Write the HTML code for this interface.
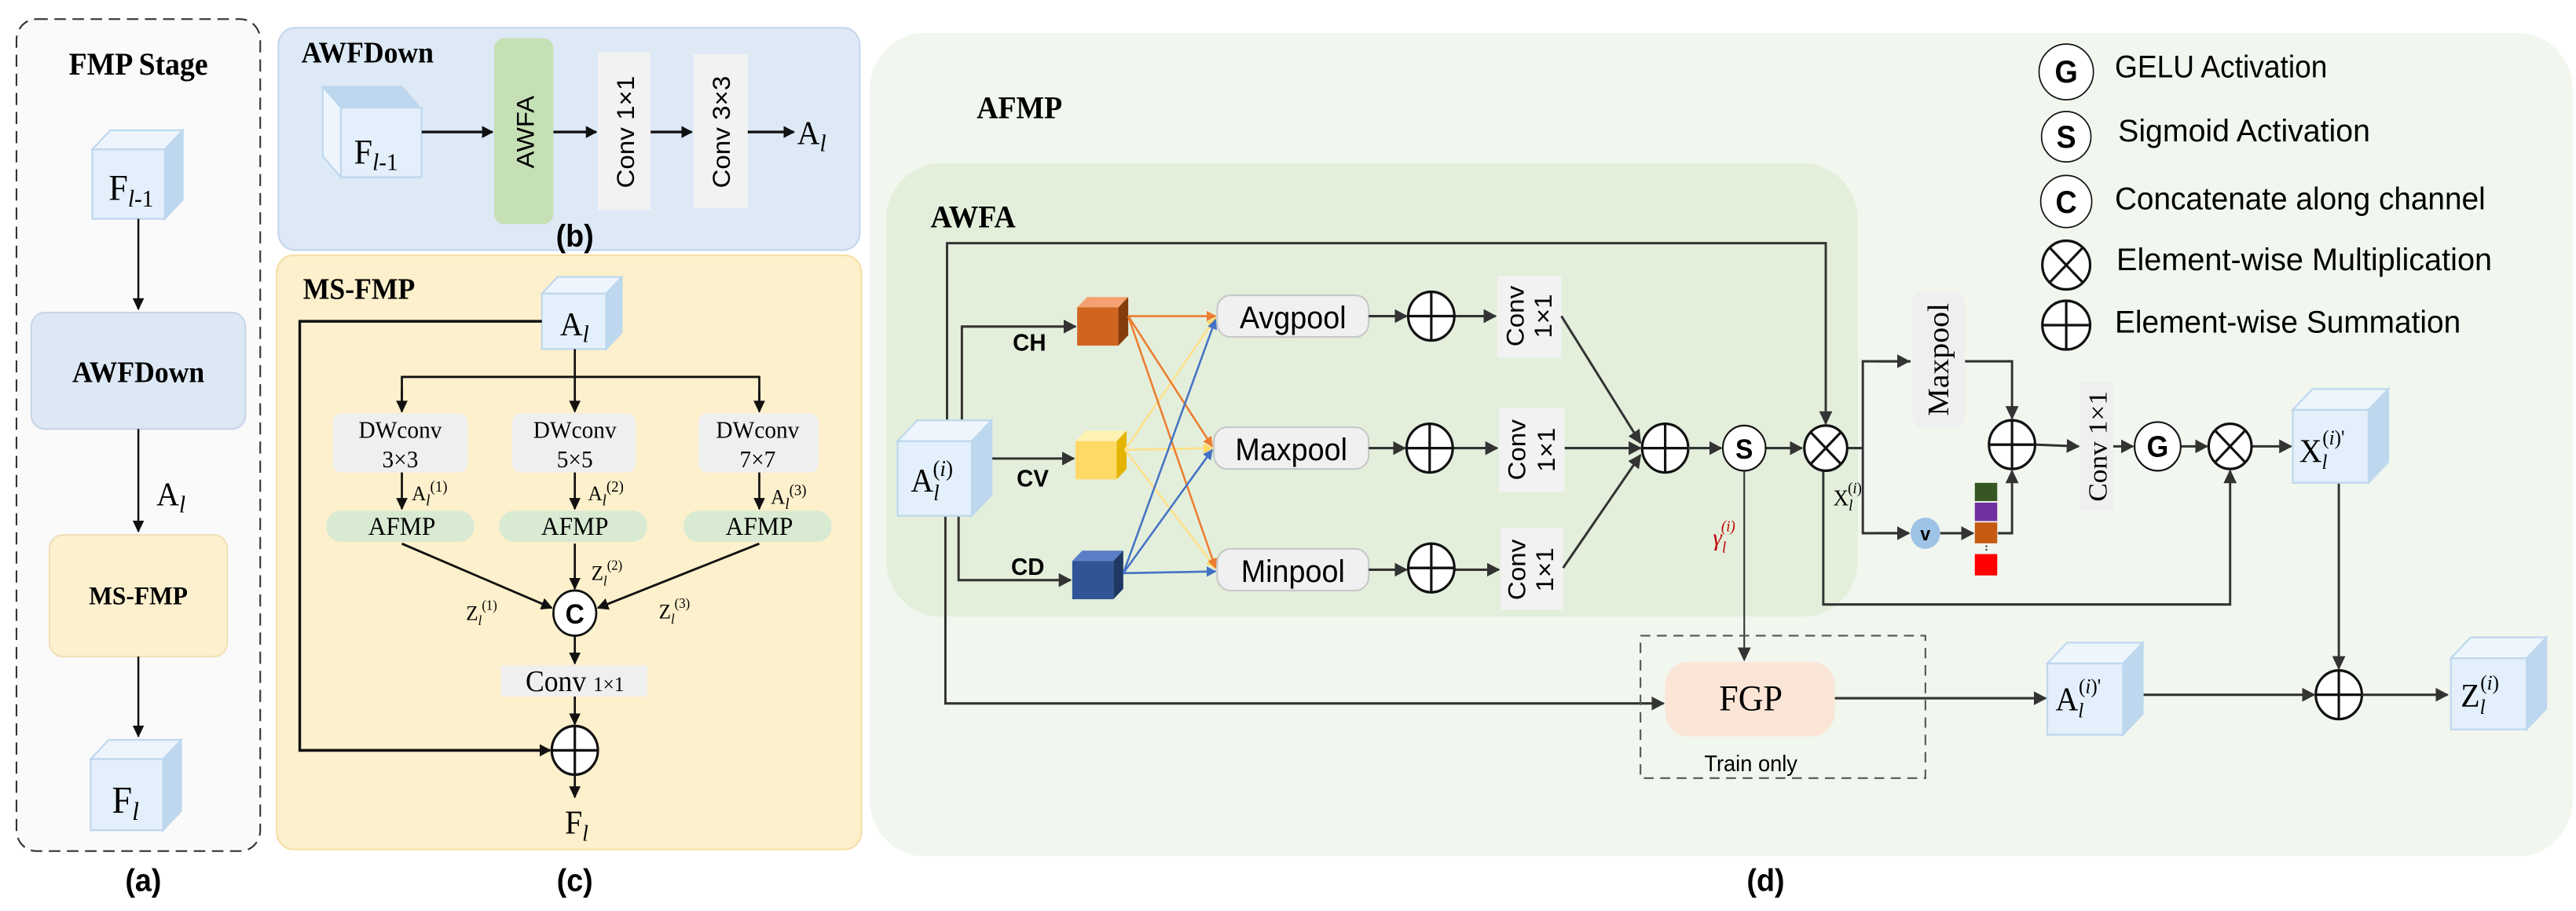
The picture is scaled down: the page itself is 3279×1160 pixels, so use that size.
<!DOCTYPE html>
<html><head><meta charset="utf-8"><style>
html,body{margin:0;padding:0;background:#fff;}
svg{display:block;}
.serif{font-family:"Liberation Serif",serif;}
.sans{font-family:"Liberation Sans","DejaVu Sans",sans-serif;}
</style></head><body>
<svg width="3279" height="1160" viewBox="0 0 1564 524.5" preserveAspectRatio="none" xmlns="http://www.w3.org/2000/svg">
<defs>
<marker id="a" viewBox="0 0 10 10" refX="9" refY="5" markerWidth="7" markerHeight="7" markerUnits="userSpaceOnUse" orient="auto"><path d="M0,0L10,5L0,10z" fill="#111"/></marker>
<marker id="g" viewBox="0 0 10 10" refX="9" refY="5" markerWidth="8" markerHeight="8" markerUnits="userSpaceOnUse" orient="auto"><path d="M0,0L10,5L0,10z" fill="#333"/></marker>
<marker id="o" viewBox="0 0 10 10" refX="9" refY="5" markerWidth="6" markerHeight="6" markerUnits="userSpaceOnUse" orient="auto"><path d="M0,0L10,5L0,10z" fill="#ed7d31"/></marker>
<marker id="y" viewBox="0 0 10 10" refX="9" refY="5" markerWidth="6" markerHeight="6" markerUnits="userSpaceOnUse" orient="auto"><path d="M0,0L10,5L0,10z" fill="#ffd966"/></marker>
<marker id="b" viewBox="0 0 10 10" refX="9" refY="5" markerWidth="6" markerHeight="6" markerUnits="userSpaceOnUse" orient="auto"><path d="M0,0L10,5L0,10z" fill="#4472c4"/></marker>
</defs>

<!-- Panel a -->
<rect x="10" y="11" width="148" height="479" rx="12" fill="#fafafa" stroke="#333" stroke-dasharray="7,4" stroke-width="1"/>
<text x="84" y="43" class="serif" font-weight="bold" font-size="18" text-anchor="middle">FMP Stage</text>
<g stroke="#bdd7ee" stroke-width="1">
<polygon points="56,86 67,75 111,75 100,86" fill="#eef5fc"/>
<polygon points="100,86 111,75 111,115 100,126" fill="#bdd7ee"/>
<rect x="56" y="86" width="44" height="40" fill="#e3effa"/>
<polygon points="55,437 66,426 110,426 99,437" fill="#eef5fc"/>
<polygon points="99,437 110,426 110,467 99,478" fill="#bdd7ee"/>
<rect x="55" y="437" width="44" height="41" fill="#e3effa"/>
</g>
<text x="66" y="115" class="serif" font-size="21">F<tspan font-size="14" dy="4"><tspan font-style="italic">l</tspan>-1</tspan></text>
<text x="68" y="468" class="serif" font-size="22">F<tspan font-size="15" dy="4" font-style="italic">l</tspan></text>
<line x1="84" y1="126" x2="84" y2="178" stroke="#111" stroke-width="1.2" marker-end="url(#a)"/>
<rect x="19" y="180" width="130" height="67" rx="8" fill="#dde8f5" stroke="#c9d6e6"/>
<text x="84" y="220" class="serif" font-weight="bold" font-size="17" text-anchor="middle">AWFDown</text>
<line x1="84" y1="247" x2="84" y2="306" stroke="#111" stroke-width="1.2" marker-end="url(#a)"/>
<text x="95" y="291" class="serif" font-size="19">A<tspan font-size="14" dy="4" font-style="italic">l</tspan></text>
<rect x="30" y="308" width="108" height="70" rx="8" fill="#fdf0cf" stroke="#f0e0b8"/>
<text x="84" y="348" class="serif" font-weight="bold" font-size="15" text-anchor="middle">MS-FMP</text>
<line x1="84" y1="378" x2="84" y2="424" stroke="#111" stroke-width="1.2" marker-end="url(#a)"/>
<text x="87" y="513" class="sans" font-weight="bold" font-size="18" text-anchor="middle">(a)</text>

<!-- Panel b -->
<rect x="169" y="16" width="353" height="128" rx="10" fill="#dde9f5" stroke="#c5d7ec"/>
<text x="183" y="36" class="serif" font-weight="bold" font-size="17">AWFDown</text>
<g stroke="#bdd7ee" stroke-width="1">
<polygon points="196,50 244,50 255,62 207,62" fill="#bdd7ee"/>
<polygon points="196,50 207,62 207,102 196,90" fill="#eef5fc"/>
<rect x="207" y="62" width="49" height="40" fill="#e3effa"/>
</g>
<text x="215" y="94" class="serif" font-size="20">F<tspan font-size="14" dy="4"><tspan font-style="italic">l</tspan>-1</tspan></text>
<line x1="256" y1="76" x2="299" y2="76" stroke="#111" stroke-width="1.5" marker-end="url(#a)"/>
<rect x="300" y="22" width="36" height="107" rx="6" fill="#c5e0b4"/>
<text transform="translate(324,76) rotate(-90)" class="sans" font-size="15" text-anchor="middle">AWFA</text>
<line x1="336" y1="76" x2="362" y2="76" stroke="#111" stroke-width="1.5" marker-end="url(#a)"/>
<rect x="363" y="30" width="32" height="91" fill="#f2f2f2"/>
<text transform="translate(385,76) rotate(-90)" class="sans" font-size="15" text-anchor="middle">Conv 1×1</text>
<line x1="395" y1="76" x2="420" y2="76" stroke="#111" stroke-width="1.5" marker-end="url(#a)"/>
<rect x="421" y="31" width="33" height="89" fill="#f2f2f2"/>
<text transform="translate(443,76) rotate(-90)" class="sans" font-size="15" text-anchor="middle">Conv 3×3</text>
<line x1="454" y1="76" x2="482" y2="76" stroke="#111" stroke-width="1.5" marker-end="url(#a)"/>
<text x="484" y="83" class="serif" font-size="19">A<tspan font-size="14" dy="4" font-style="italic">l</tspan></text>
<text x="349" y="142" class="sans" font-weight="bold" font-size="18" text-anchor="middle">(b)</text>

<!-- Panel c -->
<rect x="168" y="147" width="355" height="342" rx="10" fill="#fdf0cc" stroke="#f5dfa6"/>
<text x="184" y="172" class="serif" font-weight="bold" font-size="17">MS-FMP</text>
<g stroke="#bdd7ee" stroke-width="1">
<polygon points="329,169 338.5,159.5 377.5,159.5 368,169" fill="#eef5fc"/>
<polygon points="368,169 377.5,159.5 377.5,191.5 368,201" fill="#bdd7ee"/>
<rect x="329" y="169" width="39" height="32" fill="#e3effa"/>
</g>
<text x="340" y="193" class="serif" font-size="19">A<tspan font-size="14" dy="4" font-style="italic">l</tspan></text>
<polyline points="329,185 182,185 182,432 334,432" fill="none" stroke="#111" stroke-width="1.6" marker-end="url(#a)"/>
<line x1="349" y1="201" x2="349" y2="237" stroke="#111" stroke-width="1.3" marker-end="url(#a)"/>
<polyline points="244,237 244,217 461,217 461,237" fill="none" stroke="#111" stroke-width="1.3"/>
<line x1="244" y1="225" x2="244" y2="237" stroke="#111" stroke-width="1.3" marker-end="url(#a)"/>
<line x1="461" y1="225" x2="461" y2="237" stroke="#111" stroke-width="1.3" marker-end="url(#a)"/>
<g fill="#efefef">
<rect x="202" y="238" width="82" height="34" rx="5"/>
<rect x="311" y="238" width="75" height="34" rx="5"/>
<rect x="424" y="238" width="73" height="34" rx="5"/>
</g>
<g class="serif" font-size="14" text-anchor="middle">
<text x="243" y="252">DWconv</text><text x="243" y="269">3×3</text>
<text x="349" y="252">DWconv</text><text x="349" y="269">5×5</text>
<text x="460" y="252">DWconv</text><text x="460" y="269">7×7</text>
</g>
<g stroke="#111" stroke-width="1.3">
<line x1="244" y1="272" x2="244" y2="293" marker-end="url(#a)"/>
<line x1="349" y1="272" x2="349" y2="293" marker-end="url(#a)"/>
<line x1="461" y1="272" x2="461" y2="293" marker-end="url(#a)"/>
</g>
<g class="serif" font-size="12">
<text x="250" y="288">A<tspan font-size="9" dy="3" font-style="italic">l</tspan><tspan font-size="9" dy="-8">(1)</tspan></text>
<text x="357" y="288">A<tspan font-size="9" dy="3" font-style="italic">l</tspan><tspan font-size="9" dy="-8">(2)</tspan></text>
<text x="468" y="290">A<tspan font-size="9" dy="3" font-style="italic">l</tspan><tspan font-size="9" dy="-8">(3)</tspan></text>
</g>
<g fill="#d9ead3">
<rect x="198" y="294" width="90" height="18" rx="9"/>
<rect x="303" y="294" width="90" height="18" rx="9"/>
<rect x="415" y="294" width="90" height="18" rx="9"/>
</g>
<g class="serif" font-size="15" text-anchor="middle">
<text x="244" y="308">AFMP</text><text x="349" y="308">AFMP</text><text x="461" y="308">AFMP</text>
</g>
<g stroke="#111" stroke-width="1.3">
<line x1="244" y1="313" x2="335" y2="350" marker-end="url(#a)"/>
<line x1="349" y1="313" x2="349" y2="339" marker-end="url(#a)"/>
<line x1="461" y1="313" x2="363" y2="350" marker-end="url(#a)"/>
</g>
<g class="serif" font-size="12">
<text x="283" y="357">Z<tspan font-size="8" dy="3" font-style="italic">l</tspan><tspan font-size="8" dy="-9">(1)</tspan></text>
<text x="359" y="334">Z<tspan font-size="8" dy="3" font-style="italic">l</tspan><tspan font-size="8" dy="-9">(2)</tspan></text>
<text x="400" y="356">Z<tspan font-size="8" dy="3" font-style="italic">l</tspan><tspan font-size="8" dy="-9">(3)</tspan></text>
</g>
<circle cx="349" cy="353" r="13" fill="#fff" stroke="#111" stroke-width="1.3"/>
<text x="349" y="359" class="sans" font-weight="bold" font-size="16" text-anchor="middle">C</text>
<line x1="349" y1="366" x2="349" y2="382" stroke="#111" stroke-width="1.3" marker-end="url(#a)"/>
<rect x="304" y="383" width="89" height="18" fill="#efefef"/>
<text x="349" y="398" class="serif" font-size="17" text-anchor="middle">Conv <tspan font-size="12">1×1</tspan></text>
<line x1="349" y1="401" x2="349" y2="417" stroke="#111" stroke-width="1.3" marker-end="url(#a)"/>
<circle cx="349" cy="432" r="14" fill="#fff" stroke="#111" stroke-width="1.5"/>
<path d="M335,432H363M349,418V446" stroke="#111" stroke-width="1.5"/>
<line x1="349" y1="446" x2="349" y2="459" stroke="#111" stroke-width="1.3" marker-end="url(#a)"/>
<text x="343" y="480" class="serif" font-size="19">F<tspan font-size="13" dy="4" font-style="italic">l</tspan></text>
<text x="349" y="513" class="sans" font-weight="bold" font-size="18" text-anchor="middle">(c)</text>

<!-- Panel d -->
<rect x="528" y="19" width="1034" height="474" rx="33" fill="#f1f6ee"/>
<text x="593" y="68" class="serif" font-weight="bold" font-size="18">AFMP</text>
<rect x="538" y="94" width="590" height="261" rx="33" fill="#e3efdb"/>
<text x="565" y="131" class="serif" font-weight="bold" font-size="18">AWFA</text>

<g fill="none" stroke="#333" stroke-width="1.4">
<polyline points="575,243 575,140 1108.5,140 1108.5,244" marker-end="url(#g)"/>
<polyline points="584,243 584,188 653,188" marker-end="url(#g)"/>
<line x1="602" y1="264" x2="652" y2="264" marker-end="url(#g)"/>
<polyline points="582,297 582,334 650,334" marker-end="url(#g)"/>
<polyline points="574,297 574,405 1010,405" marker-end="url(#g)"/>
</g>
<g class="sans" font-weight="bold" font-size="14" text-anchor="middle">
<text x="625" y="202">CH</text><text x="627" y="280">CV</text><text x="624" y="331">CD</text>
</g>
<g stroke="#bdd7ee" stroke-width="1">
<polygon points="545,254 557,242 602,242 590,254" fill="#eef5fc"/>
<polygon points="590,254 602,242 602,285 590,297" fill="#bdd7ee"/>
<rect x="545" y="254" width="45" height="43" fill="#e3effa"/>
</g>
<text x="553" y="283" class="serif" font-size="19">A<tspan font-size="13" dy="5" font-style="italic">l</tspan><tspan font-size="13" dy="-14" dx="-4">(<tspan font-style="italic">i</tspan>)</tspan></text>

<!-- colored cubes -->
<polygon points="654,177 660,171 685,171 679,177" fill="#f4a070"/>
<polygon points="679,177 685,171 685,193 679,199" fill="#843c0c"/>
<rect x="654" y="177" width="25" height="22" fill="#d0651f"/>
<polygon points="653,254 659,248 684,248 678,254" fill="#fff2b3"/>
<polygon points="678,254 684,248 684,270 678,276" fill="#e5b400"/>
<rect x="653" y="254" width="25" height="22" fill="#ffd966"/>
<polygon points="651,323 657,317 682,317 676,323" fill="#5b7fc7"/>
<polygon points="676,323 682,317 682,339 676,345" fill="#1f3864"/>
<rect x="651" y="323" width="25" height="22" fill="#2f5597"/>

<g stroke-width="1.2" fill="none">
<line x1="683" y1="259" x2="738" y2="183" stroke="#ffe08a" marker-end="url(#y)"/>
<line x1="683" y1="259" x2="736" y2="258" stroke="#ffe08a" marker-end="url(#y)"/>
<line x1="683" y1="259" x2="738" y2="327" stroke="#ffe08a" marker-end="url(#y)"/>
<line x1="685" y1="182" x2="738" y2="182" stroke="#ed7d31" marker-end="url(#o)"/>
<line x1="685" y1="182" x2="736" y2="257" stroke="#ed7d31" marker-end="url(#o)"/>
<line x1="685" y1="182" x2="738" y2="327" stroke="#ed7d31" marker-end="url(#o)"/>
<line x1="682" y1="330" x2="738" y2="184" stroke="#4472c4" marker-end="url(#b)"/>
<line x1="682" y1="330" x2="736" y2="259" stroke="#4472c4" marker-end="url(#b)"/>
<line x1="682" y1="330" x2="738" y2="329" stroke="#4472c4" marker-end="url(#b)"/>
</g>

<g fill="#f0f0f0" stroke="#c8c8c8">
<rect x="739" y="170" width="92" height="24" rx="8"/>
<rect x="737" y="246" width="94" height="24" rx="8"/>
<rect x="739" y="316" width="92" height="24" rx="8"/>
</g>
<g class="sans" font-size="18" text-anchor="middle">
<text x="785" y="189">Avgpool</text><text x="784" y="265">Maxpool</text><text x="785" y="335">Minpool</text>
</g>
<g stroke="#333" stroke-width="1.4">
<line x1="831" y1="182" x2="854" y2="182" marker-end="url(#g)"/>
<line x1="831" y1="258" x2="853" y2="258" marker-end="url(#g)"/>
<line x1="831" y1="328" x2="854" y2="328" marker-end="url(#g)"/>
<line x1="883" y1="182" x2="908" y2="182" marker-end="url(#g)"/>
<line x1="882" y1="258" x2="909" y2="258" marker-end="url(#g)"/>
<line x1="883" y1="328" x2="910" y2="328" marker-end="url(#g)"/>
</g>
<g fill="#fff" stroke="#111" stroke-width="1.5">
<circle cx="869" cy="182" r="14"/><circle cx="868" cy="258" r="14"/><circle cx="869" cy="327" r="14"/>
<circle cx="1011" cy="258" r="14"/><circle cx="1221.6" cy="256" r="14"/><circle cx="1420" cy="400" r="14"/>
</g>
<path d="M855,182H883M869,168V196M854,258H882M868,244V272M855,327H883M869,313V341M997,258H1025M1011,244V272M1207.6,256H1235.6M1221.6,242V270M1406,400H1434M1420,386V414" stroke="#111" stroke-width="1.5"/>

<g fill="#f2f2f2">
<rect x="909" y="159" width="39" height="47"/>
<rect x="910" y="235" width="40" height="48"/>
<rect x="911" y="304" width="38" height="47"/>
</g>
<g class="sans" font-size="15" text-anchor="middle">
<text transform="translate(925,182) rotate(-90)">Conv</text>
<text transform="translate(942,182) rotate(-90)">1×1</text>
<text transform="translate(926,259) rotate(-90)">Conv</text>
<text transform="translate(944,259) rotate(-90)">1×1</text>
<text transform="translate(926,328) rotate(-90)">Conv</text>
<text transform="translate(943,328) rotate(-90)">1×1</text>
</g>
<g stroke="#333" stroke-width="1.4">
<line x1="948" y1="182" x2="996" y2="255" marker-end="url(#g)"/>
<line x1="950" y1="258" x2="996" y2="258" marker-end="url(#g)"/>
<line x1="949" y1="327" x2="996" y2="262" marker-end="url(#g)"/>
<line x1="1025" y1="258" x2="1045" y2="258" marker-end="url(#g)"/>
<line x1="1072" y1="258" x2="1094" y2="258" marker-end="url(#g)"/>
<line x1="1059" y1="271" x2="1059" y2="380" stroke-width="1" marker-end="url(#g)"/>
<polyline points="1121.5,258 1131,258" fill="none"/>
<polyline points="1160,208 1131,208 1131,307 1159,307" fill="none"/>
<line x1="1140" y1="208" x2="1159" y2="208" marker-end="url(#g)"/>
<line x1="1140" y1="307" x2="1159" y2="307" marker-end="url(#g)"/>
<polyline points="1193,208 1221.6,208 1221.6,241" fill="none" marker-end="url(#g)"/>
<line x1="1178" y1="307" x2="1198" y2="307" marker-end="url(#g)"/>
<polyline points="1213,307 1221.6,307 1221.6,271" fill="none" marker-end="url(#g)"/>
<line x1="1236" y1="256" x2="1262" y2="257" marker-end="url(#g)"/>
<line x1="1283" y1="257" x2="1295" y2="257" marker-end="url(#g)"/>
<line x1="1324" y1="257" x2="1340" y2="257" marker-end="url(#g)"/>
<line x1="1367" y1="257" x2="1391" y2="257" marker-end="url(#g)"/>
<polyline points="1107,271 1107,348 1354,348 1354,271" fill="none" marker-end="url(#g)"/>
<line x1="1420" y1="278" x2="1420" y2="385" marker-end="url(#g)"/>
<line x1="1434" y1="400" x2="1486" y2="400" marker-end="url(#g)"/>
<line x1="1114" y1="402" x2="1242" y2="402" marker-end="url(#g)"/>
<line x1="1301" y1="400" x2="1405" y2="400" marker-end="url(#g)"/>
</g>
<circle cx="1059" cy="258" r="13" fill="#fff" stroke="#111" stroke-width="1"/>
<text x="1059" y="264" class="sans" font-weight="bold" font-size="16" text-anchor="middle">S</text>
<circle cx="1108.5" cy="258" r="13" fill="#fff" stroke="#111" stroke-width="1.5"/>
<path d="M1099.3,248.8L1117.7,267.2M1117.7,248.8L1099.3,267.2" stroke="#111" stroke-width="1.5"/>
<text x="1040" y="314" class="serif" font-size="14" fill="#c00000" font-style="italic">γ<tspan font-size="9" dy="4">l</tspan><tspan font-size="9" dy="-12" dx="-3">(i)</tspan></text>
<text x="1113" y="291" class="serif" font-size="13">X<tspan font-size="9" dy="3" font-style="italic">l</tspan><tspan font-size="9" dy="-10" dx="-3">(<tspan font-style="italic">i</tspan>)</tspan></text>
<rect x="1161" y="168" width="32" height="78" rx="6" fill="#efefef"/>
<text transform="translate(1183,207) rotate(-90)" class="serif" font-size="18" text-anchor="middle">Maxpool</text>
<circle cx="1169" cy="307" r="9" fill="#9dc3e6"/>
<text x="1169" y="311" class="sans" font-weight="bold" font-size="11" text-anchor="middle">v</text>
<rect x="1199" y="278" width="13.6" height="10.5" fill="#375623"/>
<rect x="1199" y="289.4" width="13.6" height="10.6" fill="#7030a0"/>
<rect x="1199" y="300.8" width="13.6" height="12" fill="#c55a11"/>
<line x1="1206" y1="314" x2="1206" y2="318" stroke="#333" stroke-dasharray="1,1"/>
<rect x="1199" y="319" width="13.6" height="12.3" fill="#ff0000"/>
<rect x="1263" y="220" width="20" height="74" fill="#efefef"/>
<text transform="translate(1279,257) rotate(-90)" class="serif" font-size="16" text-anchor="middle">Conv 1×1</text>
<circle cx="1310" cy="257" r="14" fill="#fff" stroke="#111" stroke-width="1"/>
<text x="1310" y="263" class="sans" font-weight="bold" font-size="17" text-anchor="middle">G</text>
<circle cx="1354" cy="257" r="13" fill="#fff" stroke="#111" stroke-width="1.5"/>
<path d="M1344.8,247.8L1363.2,266.2M1363.2,247.8L1344.8,266.2" stroke="#111" stroke-width="1.5"/>

<g stroke="#bdd7ee" stroke-width="1">
<polygon points="1392,236 1404,224 1450,224 1438,236" fill="#eef5fc"/>
<polygon points="1438,236 1450,224 1450,266 1438,278" fill="#bdd7ee"/>
<rect x="1392" y="236" width="46" height="42" fill="#e3effa"/>
<polygon points="1243,382 1255,370 1301,370 1289,382" fill="#eef5fc"/>
<polygon points="1289,382 1301,370 1301,411 1289,423" fill="#bdd7ee"/>
<rect x="1243" y="382" width="46" height="41" fill="#e3effa"/>
<polygon points="1488,379 1500,367 1546,367 1534,379" fill="#eef5fc"/>
<polygon points="1534,379 1546,367 1546,408 1534,420" fill="#bdd7ee"/>
<rect x="1488" y="379" width="46" height="41" fill="#e3effa"/>
</g>
<text x="1396" y="266" class="serif" font-size="19">X<tspan font-size="12" dy="4" font-style="italic">l</tspan><tspan font-size="12" dy="-14" dx="-3">(<tspan font-style="italic">i</tspan>)'</tspan></text>
<text x="1248" y="409" class="serif" font-size="19">A<tspan font-size="12" dy="4" font-style="italic">l</tspan><tspan font-size="12" dy="-14" dx="-3">(<tspan font-style="italic">i</tspan>)'</tspan></text>
<text x="1494" y="407" class="serif" font-size="19">Z<tspan font-size="12" dy="4" font-style="italic">l</tspan><tspan font-size="12" dy="-14" dx="-3">(<tspan font-style="italic">i</tspan>)</tspan></text>

<rect x="996" y="366" width="173" height="82" fill="none" stroke="#555" stroke-dasharray="6,4" stroke-width="1"/>
<rect x="1011" y="381" width="103" height="43" rx="14" fill="#fbe5d6"/>
<text x="1063" y="409" class="serif" font-size="21" text-anchor="middle">FGP</text>
<text x="1063" y="444" class="sans" font-size="13" text-anchor="middle">Train only</text>

<!-- legend -->
<g fill="#fff" stroke="#111" stroke-width="0.8">
<ellipse cx="1254.5" cy="41.4" rx="16.5" ry="16"/><ellipse cx="1254.5" cy="78.7" rx="15" ry="14.5"/><ellipse cx="1254.5" cy="116" rx="15.5" ry="15"/>
<ellipse cx="1254.5" cy="152.6" rx="14.5" ry="14" stroke-width="1.5"/><ellipse cx="1254.5" cy="187.2" rx="14.5" ry="14" stroke-width="1.5"/>
</g>
<path d="M1244.5,142.6L1264.5,162.6M1264.5,142.6L1244.5,162.6M1240,187.2H1269M1254.5,173.2V201.2" stroke="#111" stroke-width="1.5"/>
<g class="sans" font-weight="bold" font-size="18" text-anchor="middle">
<text x="1254.5" y="47.5">G</text><text x="1254.5" y="85">S</text><text x="1254.5" y="122.5">C</text>
</g>
<g class="sans" font-size="18">
<text x="1284" y="44.5" textLength="129" lengthAdjust="spacingAndGlyphs">GELU Activation</text>
<text x="1286" y="81.4" textLength="153" lengthAdjust="spacingAndGlyphs">Sigmoid Activation</text>
<text x="1284" y="120.4" textLength="225" lengthAdjust="spacingAndGlyphs">Concatenate along channel</text>
<text x="1285" y="155.5" textLength="228" lengthAdjust="spacingAndGlyphs">Element-wise Multiplication</text>
<text x="1284" y="191.5" textLength="210" lengthAdjust="spacingAndGlyphs">Element-wise Summation</text>
</g>
<text x="1072" y="513" class="sans" font-weight="bold" font-size="18" text-anchor="middle">(d)</text>
</svg>
</body></html>
